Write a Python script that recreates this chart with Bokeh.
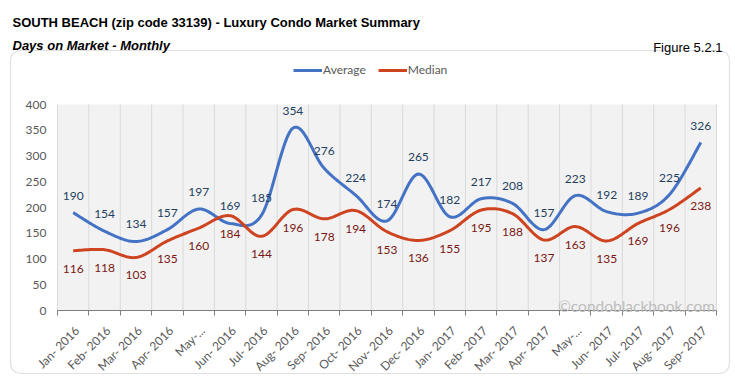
import math
import numpy as np
from bokeh.plotting import figure
from bokeh.models import (ColumnDataSource, FixedTicker, Label, BoxAnnotation,
                          Legend, LegendItem, Range1d)
from bokeh.core.properties import value
from bokeh.embed import file_html
from bokeh.resources import INLINE

# ---------------- data ----------------
months = ["Jan- 2016", "Feb- 2016", "Mar- 2016", "Apr- 2016", "May-...", "Jun- 2016",
          "Jul- 2016", "Aug- 2016", "Sep- 2016", "Oct- 2016", "Nov- 2016", "Dec- 2016",
          "Jan- 2017", "Feb- 2017", "Mar- 2017", "Apr- 2017", "May-...", "Jun- 2017",
          "Jul- 2017", "Aug- 2017", "Sep- 2017"]
average = [190, 154, 134, 157, 197, 169, 185, 354, 276, 224, 174, 265, 182, 217, 208,
           157, 223, 192, 189, 225, 326]
median = [116, 118, 103, 135, 160, 184, 144, 196, 178, 194, 153, 136, 155, 195, 188,
          137, 163, 135, 169, 196, 238]
y_ticks = [0, 50, 100, 150, 200, 250, 300, 350, 400]
y_max = 400

title_text = "SOUTH BEACH (zip code 33139) - Luxury Condo Market Summary"
subtitle_text = "Days on Market - Monthly"
figure_text = "Figure 5.2.1"
watermark_text = "\u00a9condoblackbook.com"

FONT = "Lato"
HFONT = "Liberation Sans"
AVG_COLOR = "#4472C4"
MED_COLOR = "#CF4420"
AXIS_GRAY = "#595959"


def smooth(ys, n=24):
    """Excel-like smoothed line (Catmull-Rom Bezier) through category points."""
    pts = np.column_stack([np.arange(len(ys), dtype=float), np.asarray(ys, dtype=float)])
    xs_out, ys_out = [], []
    m = len(pts)
    for i in range(m - 1):
        p0 = pts[i - 1] if i > 0 else pts[i]
        p1 = pts[i]
        p2 = pts[i + 1]
        p3 = pts[i + 2] if i + 2 < m else pts[i + 1]
        c1 = p1 + (p2 - p0) / 6.0
        c2 = p2 - (p3 - p1) / 6.0
        t = np.linspace(0, 1, n, endpoint=(i == m - 2))[:, None]
        b = ((1 - t) ** 3) * p1 + 3 * ((1 - t) ** 2) * t * c1 \
            + 3 * (1 - t) * t ** 2 * c2 + t ** 3 * p2
        xs_out.extend(b[:, 0])
        ys_out.extend(b[:, 1])
    return xs_out, ys_out


# ---------------- layout (pixels) ----------------
W, H = 735, 381
PA_L, PA_R, PA_T, PA_B = 57, 716, 104, 310      # plot-area edges on the canvas
BOX_L, BOX_R, BOX_T, BOX_B = 10, 729, 50, 373   # outer rounded frame on the canvas
n_cat = len(months)
x_lo, x_hi = -0.5, n_cat - 0.5
px_per_x = (PA_R - PA_L) / (x_hi - x_lo)
px_per_y = (PA_B - PA_T) / y_max
x_range = Range1d(x_lo - PA_L / px_per_x, x_hi + (W - PA_R) / px_per_x)
y_range = Range1d(0 - (H - PA_B) / px_per_y, y_max + PA_T / px_per_y)


def cx(px):
    return x_lo + (px - PA_L) / px_per_x


def cy(py):
    return (PA_B - py) / px_per_y


p = figure(width=W, height=H, output_backend="svg", toolbar_location=None,
           x_range=x_range, y_range=y_range,
           min_border=0, min_border_left=0, min_border_right=0,
           min_border_top=0, min_border_bottom=0,
           background_fill_color="white", border_fill_color="white",
           outline_line_color=None)
p.grid.visible = False

# outer rounded box
p.add_layout(BoxAnnotation(left=cx(BOX_L), right=cx(BOX_R), top=cy(BOX_T), bottom=cy(BOX_B),
                           fill_color=None, fill_alpha=0, line_color="#999999",
                           line_width=1.2, border_radius=10, level="underlay"))
# plot area background
p.add_layout(BoxAnnotation(left=x_lo, right=x_hi, bottom=0, top=y_max,
                           fill_color="#F2F2F2", fill_alpha=1, line_color=None,
                           level="underlay"))

# vertical grid lines at category boundaries
bounds = [i - 0.5 for i in range(n_cat + 1)]
p.segment(x0=bounds, y0=[0] * len(bounds), x1=bounds, y1=[y_max] * len(bounds),
          line_color="#D9D9D9", line_width=1)

# y axis (drawn at the plot-area's left edge)
yax = p.yaxis[0]
yax.fixed_location = x_lo
yax.bounds = (0, y_max)
yax.ticker = FixedTicker(ticks=y_ticks)
yax.axis_line_color = None
yax.major_tick_line_color = None
yax.minor_tick_line_color = None
yax.major_tick_out = 0
yax.major_tick_in = 0
yax.major_label_standoff = 11
yax.major_label_text_font = FONT
yax.major_label_text_font_size = "12px"
yax.major_label_text_color = AXIS_GRAY

# x axis (drawn at y = 0)
LBL_SHIFT = 0.12
xax = p.xaxis[0]
xax.fixed_location = 0
xax.bounds = (x_lo, x_hi)
xax.ticker = FixedTicker(ticks=[i + LBL_SHIFT for i in range(n_cat)], minor_ticks=bounds)
xax.major_label_overrides = {i + LBL_SHIFT: m for i, m in enumerate(months)}
xax.major_label_orientation = math.pi / 4
xax.major_tick_line_color = None
xax.major_tick_out = 0
xax.major_tick_in = 0
xax.minor_tick_out = 5
xax.minor_tick_in = 0
xax.minor_tick_line_color = "#7F7F7F"
xax.axis_line_color = "#7F7F7F"
xax.major_label_standoff = 13
xax.major_label_text_font = FONT
xax.major_label_text_font_size = "12px"
xax.major_label_text_color = AXIS_GRAY

# lines
ax_, ay_ = smooth(average)
mx_, my_ = smooth(median)
r_avg = p.line(x=ax_, y=ay_, line_color=AVG_COLOR, line_width=3)
r_med = p.line(x=mx_, y=my_, line_color=MED_COLOR, line_width=3)

idx = list(range(n_cat))
src = ColumnDataSource(dict(x=idx, avg=average, med=median,
                            avg_t=[str(v) for v in average],
                            med_t=[str(v) for v in median]))
p.text(x="x", y="avg", text="avg_t", source=src, text_align="center",
       text_baseline="middle", y_offset=-17, text_font=value(FONT),
       text_font_size="12px", text_color="#243F60")
p.text(x="x", y="med", text="med_t", source=src, text_align="center",
       text_baseline="middle", y_offset=18, text_font=value(FONT),
       text_font_size="12px", text_color="#7A1712")

# watermark
p.add_layout(Label(x=x_hi - 0.05, y=8, text=watermark_text, text_align="right",
                   text_baseline="alphabetic", text_font=FONT, text_font_size="15.5px",
                   text_color="#BDBDBD"))

# legend
legend = Legend(items=[LegendItem(label="Average", renderers=[r_avg]),
                       LegendItem(label="Median", renderers=[r_med])],
                orientation="horizontal", location=(293, H - 77), padding=0, margin=0,
                spacing=12, glyph_width=29, glyph_height=14, label_standoff=1,
                label_text_font=FONT, label_text_font_size="12px",
                label_text_color=AXIS_GRAY, border_line_color=None,
                background_fill_alpha=0)
p.add_layout(legend, "center")

# header texts
p.add_layout(Label(x=12, y=H - 21.5, x_units="screen", y_units="screen",
                   text=title_text, text_font=HFONT, text_font_style="bold",
                   text_font_size="13px", text_color="#000000",
                   text_baseline="alphabetic"))
p.add_layout(Label(x=12, y=H - 45, x_units="screen", y_units="screen",
                   text=subtitle_text, text_font=HFONT,
                   text_font_style="bold italic", text_font_size="13px",
                   text_color="#000000", text_baseline="alphabetic"))
p.add_layout(Label(x=722, y=H - 47, x_units="screen", y_units="screen",
                   text=figure_text, text_font=HFONT, text_align="right",
                   text_font_size="13px", text_color="#000000",
                   text_baseline="alphabetic"))

open("out.html", "w").write(file_html(p, INLINE))
